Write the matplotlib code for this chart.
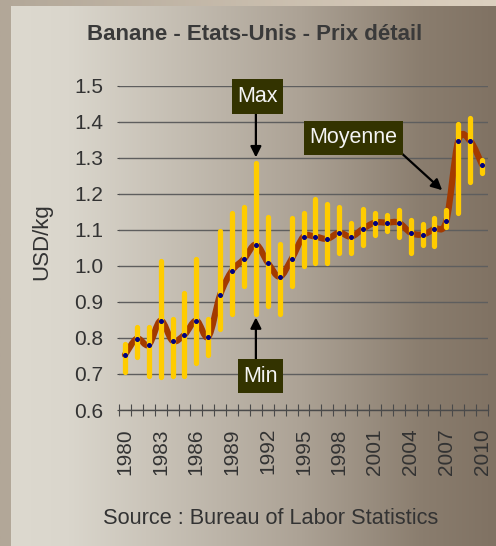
import numpy as np
import matplotlib
matplotlib.use("Agg")
import matplotlib.pyplot as plt
from matplotlib.path import Path
from matplotlib.patches import PathPatch, Rectangle

# ---- data ----
years = list(range(1980, 2011))
mean_price = [0.753, 0.798, 0.781, 0.848, 0.792, 0.809, 0.848, 0.803, 0.920, 0.987,
              1.019, 1.059, 1.009, 0.970, 1.019, 1.081, 1.081, 1.075, 1.092, 1.081,
              1.103, 1.120, 1.120, 1.120, 1.092, 1.087, 1.103, 1.125, 1.347, 1.347, 1.281]
max_price = [0.782, 0.831, 0.831, 1.013, 0.853, 0.925, 1.020, 0.853, 1.097, 1.148,
             1.164, 1.286, 1.136, 1.060, 1.132, 1.148, 1.186, 1.171, 1.164, 1.120,
             1.159, 1.148, 1.142, 1.154, 1.126, 1.115, 1.132, 1.154, 1.393, 1.409, 1.293]
min_price = [0.705, 0.746, 0.695, 0.691, 0.695, 0.695, 0.730, 0.753, 0.825, 0.867,
             0.944, 0.867, 0.890, 0.867, 0.944, 1.001, 1.007, 1.007, 1.035, 1.035,
             1.058, 1.086, 1.098, 1.079, 1.035, 1.058, 1.056, 1.107, 1.146, 1.234, 1.257]
y_ticks = [0.6, 0.7, 0.8, 0.9, 1.0, 1.1, 1.2, 1.3, 1.4, 1.5]
title = "Banane - Etats-Unis - Prix détail"
source = "Source : Bureau of Labor Statistics"
ylabel = "USD/kg"

plt.rcParams['font.family'] = ['Liberation Sans', 'DejaVu Sans']

W, H = 496, 546
fig = plt.figure(figsize=(W / 100, H / 100), dpi=100)

# ---- background gradients ----
bg = fig.add_axes([0, 0, 1, 1])
bg.set_xlim(0, 1); bg.set_ylim(0, 1); bg.axis('off')
xs = np.linspace(0, 1, 256)
outer = np.array([np.interp(xs, [0, 1], [c0, c1]) for c0, c1 in
                  zip((178, 167, 152), (221, 209, 192))]).T / 255.0
bg.imshow(outer[None, :, :], extent=[0, 1, 0, 1], aspect='auto', zorder=0)
stops = [0, 0.12, 0.6, 0.85, 1.0]
cols = [(221, 217, 207), (218, 214, 204), (172, 162, 149), (138, 125, 110), (128, 114, 99)]
inner = np.array([np.interp(xs, stops, [c[k] for c in cols]) for k in range(3)]).T / 255.0
bg.imshow(inner[None, :, :], extent=[11 / W, 1, 0, 1 - 6 / H], aspect='auto', zorder=1)

# ---- main axes ----
left, right = 119 / W, 488 / W
bottom, top = 1 - 410 / H, 1 - 85.7 / H
ax = fig.add_axes([left, bottom, right - left, top - bottom])
ax.set_facecolor('none')
n = len(years)
x = np.arange(n)
ax.set_xlim(-0.5, n - 0.5)
ax.set_ylim(0.6, 1.5)

for s in ['top', 'right', 'left']:
    ax.spines[s].set_visible(False)
ax.spines['bottom'].set_color('#4a4a4a')
ax.spines['bottom'].set_linewidth(1.0)

ax.set_yticks(y_ticks)
ax.set_yticklabels([f"{v:.1f}" for v in y_ticks])
ax.tick_params(axis='y', length=1.5, width=0.8, color='#4a4a4a', pad=10,
               labelsize=15, labelcolor='#333333')
ax.yaxis.grid(True, color='#5e5e5e', lw=1.0)
ax.set_axisbelow(True)

ax.set_xticks(np.arange(n + 1) - 0.5)
ax.set_xticklabels([])
ax.tick_params(axis='x', which='major', direction='inout', length=8, width=0.8,
               color='#4a4a4a')
lab_idx = [i for i, yv in enumerate(years) if (yv - 1980) % 3 == 0]
ax.set_xticks(lab_idx, minor=True)
ax.set_xticklabels([str(years[i]) for i in lab_idx], minor=True, rotation=90,
                   fontsize=15, color='#333333')
ax.tick_params(axis='x', which='minor', length=0, pad=13)

# smoothed mean line (Catmull-Rom Bezier through data points)
pts = np.column_stack([x, mean_price])
verts = [tuple(pts[0])]
codes = [Path.MOVETO]
for i in range(n - 1):
    p0 = pts[max(i - 1, 0)]
    p1 = pts[i]
    p2 = pts[i + 1]
    p3 = pts[min(i + 2, n - 1)]
    c1 = p1 + (p2 - p0) / 6.0
    c2 = p2 - (p3 - p1) / 6.0
    verts += [tuple(c1), tuple(c2), tuple(p2)]
    codes += [Path.CURVE4] * 3
line = PathPatch(Path(verts, codes), fill=False, edgecolor='#a33a00', lw=4.5,
                 capstyle='round', joinstyle='round', zorder=3)
ax.add_patch(line)

bars = ax.vlines(x, min_price, max_price, colors='#ffcc00', lw=3.8, zorder=4)
bars.set_capstyle('round')

ax.plot(x, mean_price, 'o', color='#000080', ms=2.6, zorder=5)

# ---- annotation boxes ----
box_col = '#333300'


def box(cx, cy, w, h, text):
    fig.patches.append(Rectangle(((cx - w / 2) / W, 1 - (cy + h / 2) / H), w / W, h / H,
                                 transform=fig.transFigure, facecolor=box_col,
                                 edgecolor='none', zorder=6))
    fig.text(cx / W, 1 - cy / H, text, ha='center', va='center', fontsize=15.5,
             color='#f4f4f4', zorder=7)


box(257.5, 96.5, 51, 35, "Max")
box(260.5, 376, 45, 34, "Min")
box(353.5, 138, 99, 34, "Moyenne")

arrow = dict(arrowstyle='-|>', lw=1.6, color='black', mutation_scale=16,
             shrinkA=0, shrinkB=0)
i91 = years.index(1991)
ax.annotate('', xy=(i91, max_price[i91] + 0.015), xycoords='data',
            xytext=(i91, 1 - 113 / H), textcoords=('data', 'figure fraction'),
            arrowprops=arrow, zorder=8)
ax.annotate('', xy=(i91, min_price[i91] - 0.010), xycoords='data',
            xytext=(i91, 1 - 359 / H), textcoords=('data', 'figure fraction'),
            arrowprops=arrow, zorder=8)
ax.annotate('', xy=(26.65, 1.21), xycoords='data',
            xytext=(398 / W, 1 - 150 / H), textcoords='figure fraction',
            arrowprops=arrow, zorder=8)

# ---- texts ----
fig.text(255 / W, 1 - 34 / H, title, ha='center', va='center', fontsize=16,
         fontweight='bold', color='#3a3a3a')
fig.text(271 / W, 1 - 518 / H, source, ha='center', va='center', fontsize=15.7,
         color='#333333')
fig.text(42 / W, 1 - 242 / H, ylabel, ha='center', va='center', rotation=90,
         fontsize=16, color='#333333')

fig.savefig('out.png', dpi=100)
